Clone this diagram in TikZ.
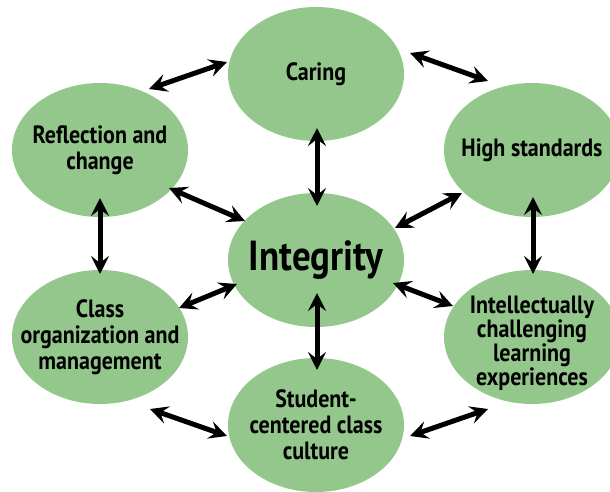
\documentclass[tikz,border=0pt]{standalone}
\usepackage{fontspec}
\setmainfont{PT Sans}[FakeStretch=0.88]
\usepackage{tikz}
\usetikzlibrary{positioning, shapes.geometric, arrows.meta, decorations.markings}
\usepackage{xcolor}
\definecolor{ovalgreen}{RGB}{147,199,139}
\tikzstyle{Oval} = [
ellipse, fill=ovalgreen,
minimum width=176pt, minimum height=134pt,
inner xsep=-25pt, inner ysep=-10pt, outer sep=0pt,
align=center, font=\bfseries\fontsize{25}{26}\selectfont]
\tikzstyle{Arrow} = [
line width=5pt,
decoration={
markings,
mark=at position 0.0001 with {
\arrowreversed{Stealth[length=18pt, width=18pt, inset=7pt]}},
mark=at position 0.9999 with {
\arrow{Stealth[length=18pt, width=18pt, inset=7pt]}}},
shorten >= 9pt, shorten <= 9pt, preaction = {decorate}]

\begin{document}
\begin{tikzpicture}[x=1pt, y=-1pt]
    \useasboundingbox (0,0) rectangle (610,491);
    \node [Oval, font=\bfseries\fontsize{42}{42}\selectfont] (1) at (316,260) {Integrity};
    \node [Oval, above =52pt of 1] (2) {Caring};
    \node [Oval, right =40pt of 2, yshift=-76pt] (3) {High standards};
    \node [Oval, below =31pt of 1] (5) {Student-\\centered class\\culture};
    \node [Oval, right =40pt of 5, yshift=88pt,
        font=\bfseries\fontsize{25}{22.5}\selectfont] (4) {\rule{0pt}{30pt}Intellectually\\challenging\\learning\\experiences};
    \node [Oval, left =40pt of 5, yshift=88pt] (6) {Class\\organization and\\management};
    \node [Oval, left =40pt of 2, yshift=-76pt] (7) {Reflection and\\change};

    % ring
    \draw[Arrow] ([shift={(49,-61)}]7.center) -- ([shift={(-89,-12)}]2.center);
    \draw[Arrow] ([shift={(94,-21)}]2.center) -- ([shift={(-44,-69)}]3.center);
    \draw[Arrow] ([shift={(1,47)}]3.center) -- ([shift={(1,-63)}]4.center);
    \draw[Arrow] ([shift={(-44,72)}]4.center) -- ([shift={(94,11)}]5.center);
    \draw[Arrow] ([shift={(50,72)}]6.center) -- ([shift={(-89,11)}]5.center);
    \draw[Arrow] ([shift={(0,48)}]7.center) -- ([shift={(0,-63)}]6.center);
    % spokes
    \draw[Arrow] ([shift={(1,54)}]2.center) -- ([shift={(1,-54)}]1.center);
    \draw[Arrow] ([shift={(-70,43)}]3.center) -- ([shift={(79,-32)}]1.center);
    \draw[Arrow] ([shift={(-79,-31)}]4.center) -- ([shift={(77,23)}]1.center);
    \draw[Arrow] ([shift={(1,33)}]1.center) -- ([shift={(1,-55)}]5.center);
    \draw[Arrow] ([shift={(79,-29)}]6.center) -- ([shift={(-79,24)}]1.center);
    \draw[Arrow] ([shift={(69,38)}]7.center) -- ([shift={(-71,-39)}]1.center);
\end{tikzpicture}
\end{document}
